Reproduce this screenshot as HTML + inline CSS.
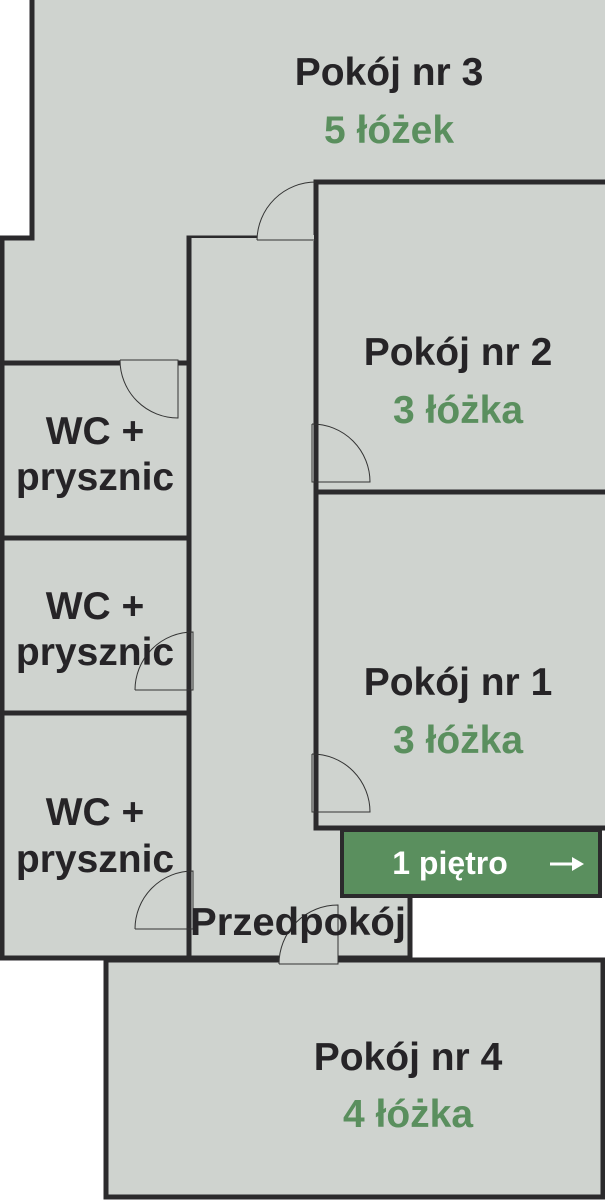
<!DOCTYPE html>
<html><head><meta charset="utf-8"><style>
html,body{margin:0;padding:0;background:#fff;}
svg{display:block;}
text{font-family:"Liberation Sans",sans-serif;font-weight:bold;text-anchor:middle;}
.b{fill:#262427;font-size:39px;}
.g{fill:#5a8f5e;font-size:39px;}
</style></head><body>
<svg width="605" height="1200" viewBox="0 0 605 1200">
<g fill="#cfd3cf" stroke="#2b2a2c" stroke-width="5">
<polygon points="32,-5 610,-5 610,182 316,182 316,238 189,238 189,958 2,958 2,238 32,238"/>
<rect x="189" y="238" width="221" height="720" stroke="none"/>
<rect x="316" y="182" width="292" height="310"/>
<rect x="316" y="492" width="292" height="336"/>
<rect x="2" y="363" width="187" height="175"/>
<rect x="2" y="538" width="187" height="175"/>
<rect x="2" y="713" width="187" height="245"/>
<rect x="106" y="960" width="497" height="237"/>
</g>
<polyline points="189,238 189,958 410,958 410,898" fill="none" stroke="#2b2a2c" stroke-width="5"/>
<rect x="342" y="830" width="258" height="66" fill="#5a8f5e" stroke="#2b2a2c" stroke-width="4"/>
<g fill="#cfd3cf" stroke="none">
<rect x="257" y="235" width="57" height="6"/>
<rect x="120" y="360" width="58" height="6"/>
<rect x="279" y="955" width="59" height="8"/>
</g>
<g fill="none" stroke="#333" stroke-width="1">
<path d="M257,240 A59,59 0 0 1 316,182 M257,240 L316,240"/>
<path d="M120,360 A58,58 0 0 0 178,418 L178,360 L120,360"/>
<path d="M312,424 A58,58 0 0 1 370,482 L312,482 L312,424"/>
<path d="M312,754 A58,58 0 0 1 370,812 L312,812 L312,754"/>
<path d="M135,690 A58,58 0 0 1 193,632 L193,690 L135,690"/>
<path d="M135,929 A58,58 0 0 1 193,871 L193,929 L135,929"/>
<path d="M279,964 A59,59 0 0 1 338,905 L338,964 L279,964"/>
</g>
<text class="b" x="389" y="85">Pokój nr 3</text>
<text class="g" x="389" y="143">5 łóżek</text>
<text class="b" x="458" y="365">Pokój nr 2</text>
<text class="g" x="458" y="423">3 łóżka</text>
<text class="b" x="458" y="695">Pokój nr 1</text>
<text class="g" x="458" y="753">3 łóżka</text>
<text class="b" x="95" y="444">WC +</text>
<text class="b" x="95" y="490">prysznic</text>
<text class="b" x="95" y="619">WC +</text>
<text class="b" x="95" y="665">prysznic</text>
<text class="b" x="95" y="825">WC +</text>
<text class="b" x="95" y="872">prysznic</text>
<text class="b" x="298" y="935" textLength="216" lengthAdjust="spacingAndGlyphs">Przedpokój</text>
<text class="b" x="408" y="1070">Pokój nr 4</text>
<text class="g" x="408" y="1127">4 łóżka</text>
<text x="450" y="874" style="fill:#fff;font-size:32px">1 piętro</text>
<g stroke="#fff" stroke-width="3" fill="#fff">
<line x1="550" y1="864" x2="574" y2="864"/>
<polygon points="584,864 572,857 572,871" stroke="none"/>
</g>
</svg>
</body></html>
